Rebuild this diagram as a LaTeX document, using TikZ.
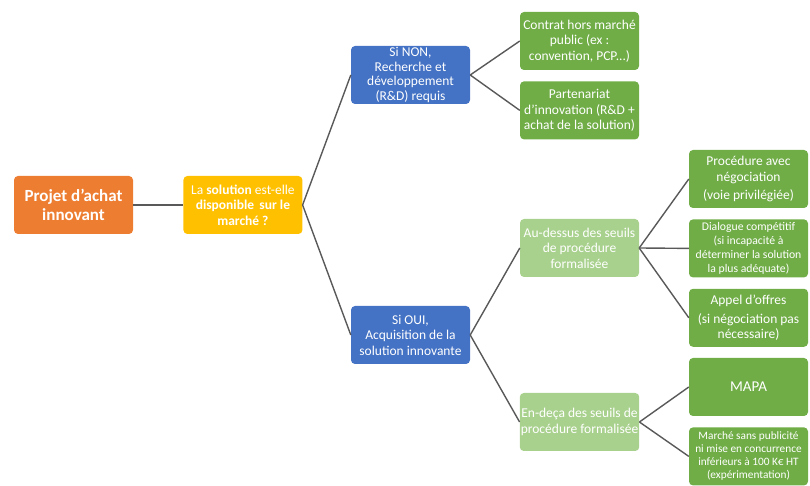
\documentclass[tikz,border=0pt]{standalone}
\usepackage{fontspec}
\setmainfont{Carlito}
\usetikzlibrary{positioning}
\definecolor{orangebox}{HTML}{ED7D31}
\definecolor{goldbox}{HTML}{FFC000}
\definecolor{bluebox}{HTML}{4472C4}
\definecolor{greenbox}{HTML}{70AD47}
\definecolor{lightgreen}{HTML}{A9D18E}
\definecolor{linkgray}{HTML}{595959}

\begin{document}
\begin{tikzpicture}[x=1pt, y=1pt,
  box/.style={rounded corners=4pt, minimum width=119pt, minimum height=58pt, inner sep=1pt,
    align=center, text=white, font=\fontsize{13.5}{15.5}\selectfont},
  rootbox/.style={box, fill=orangebox, font=\bfseries\fontsize{17}{19.5}\selectfont},
  questbox/.style={box, fill=goldbox},
  choicebox/.style={box, fill=bluebox},
  levelbox/.style={box, fill=lightgreen},
  leafbox/.style={box, fill=greenbox},
  link/.style={draw=linkgray, line width=1.4pt}
  ]
\useasboundingbox (0,0) rectangle (810,486);

% root and question
\node[rootbox] (projet) at (73.5,281) {Projet d'achat\\innovant};
\node[questbox, right=50pt of projet] (question) {La \textbf{solution} est-elle\\\textbf{disponible\, sur le}\\\textbf{march\'e ?}};

% two answers
\node[choicebox, inner sep=0pt, font=\fontsize{13.5}{14.5}\selectfont] (non) at (410.5,411) {Si NON,\\Recherche et\\d\'eveloppement\\(R\&D) requis};
\node[choicebox] (oui) at (410.5,151) {Si OUI,\\Acquisition de la\\solution innovante};

% R&D branch
\node[leafbox] (contrat) at (579.5,445) {Contrat hors march\'e\\public (ex :\\convention, PCP...)};
\node[leafbox, below=11pt of contrat] (partenariat) {Partenariat\\d'innovation (R\&D +\\achat de la solution)};

% thresholds
\node[levelbox] (dessus) at (579.5,238) {Au-dessus des seuils\\de proc\'edure\\formalis\'ee};
\node[levelbox] (deca) at (579.5,64) {En-de\c{c}a des seuils de\\proc\'edure formalis\'ee};

% procedures above thresholds
\node[leafbox] (negociation) at (748.5,307) {Proc\'edure avec\\n\'egociation\\[3pt](voie privil\'egi\'ee)};
\node[leafbox, below=11pt of negociation, font=\fontsize{11.7}{13.8}\selectfont] (dialogue) {Dialogue comp\'etitif\\(si incapacit\'e \`a\\d\'eterminer la solution\\la plus ad\'equate)};
\node[leafbox, below=11pt of dialogue] (appel) {Appel d'offres\\[3pt](si n\'egociation pas\\n\'ecessaire)};

% procedures below thresholds
\node[leafbox, font=\fontsize{15}{18}\selectfont] (mapa) at (748.5,99) {MAPA};
\node[leafbox, below=11pt of mapa, font=\fontsize{11.3}{13}\selectfont] (sanspub) {March\'e sans publicit\'e\\ni mise en concurrence\\inf\'erieurs \`a 100 K€ HT\\(exp\'erimentation)};

% connectors
\draw[link] (projet.east) -- (question.west);
\foreach \child in {non, oui}
  \draw[link] (question.east) -- (\child.west);
\foreach \child in {contrat, partenariat}
  \draw[link] (non.east) -- (\child.west);
\foreach \child in {dessus, deca}
  \draw[link] (oui.east) -- (\child.west);
\foreach \child in {negociation, dialogue, appel}
  \draw[link] (dessus.east) -- (\child.west);
\foreach \child in {mapa, sanspub}
  \draw[link] (deca.east) -- (\child.west);
\end{tikzpicture}
\end{document}
